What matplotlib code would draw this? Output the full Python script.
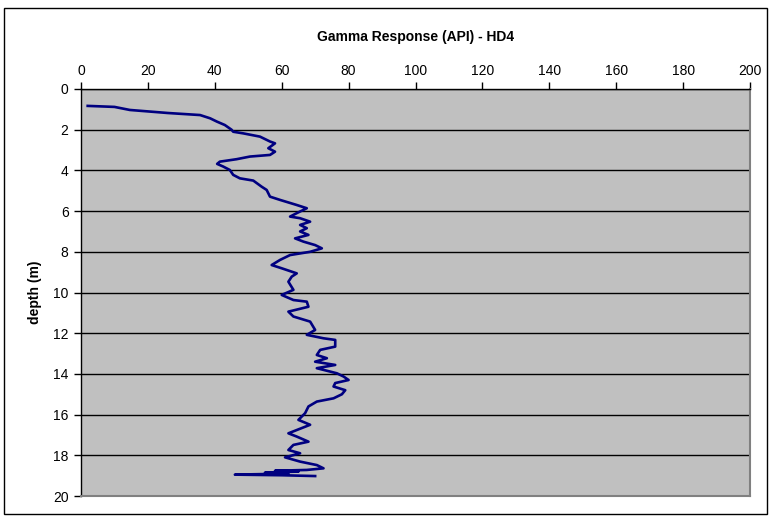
import matplotlib
matplotlib.use("Agg")
import matplotlib.pyplot as plt
from matplotlib.patches import Rectangle

# Gamma log for borehole HD4
depth_m = [0.83, 0.88, 1.03, 1.18, 1.28, 1.44, 1.6, 1.77, 2.0, 2.1, 2.18, 2.34, 2.58, 2.67,
           2.91, 3.08, 3.24, 3.32, 3.45, 3.57, 3.68, 3.81, 3.98, 4.22, 4.39, 4.5, 4.8, 4.96,
           5.29, 5.45, 5.7, 5.86, 6.1, 6.27, 6.35, 6.52, 6.68, 6.84, 7.0, 7.17, 7.34, 7.5,
           7.67, 7.83, 8.0, 8.16, 8.4, 8.65, 8.81, 9.06, 9.22, 9.47, 9.87, 10.12, 10.37,
           10.45, 10.7, 10.94, 11.18, 11.43, 11.84, 12.08, 12.25, 12.33, 12.66, 12.82, 13.07,
           13.23, 13.4, 13.56, 13.72, 13.97, 14.13, 14.3, 14.45, 14.62, 14.8, 15.0, 15.2,
           15.36, 15.6, 15.93, 16.26, 16.5, 16.92, 17.08, 17.33, 17.49, 17.74, 17.9, 18.1,
           18.31, 18.48, 18.64, 18.72, 18.76, 18.8, 18.85, 18.9, 18.95, 18.98, 19.02]
gamma_api = [2, 10, 14.6, 26, 35.6, 38.6, 40.6, 43, 45, 45.5, 48.5, 53.5, 56.5, 58,
             56, 58, 56.5, 50.5, 46.5, 41.5, 40.7, 42.5, 44.5, 45.5, 47.5, 51.5, 54, 55.5,
             56.5, 59.5, 64.5, 67.5, 64.5, 62.5, 65.5, 68.5, 65.5, 67.5, 65.5, 68, 64, 66.5,
             70, 72, 68.5, 62.5, 59.5, 57, 60, 64.5, 63, 62, 63.5, 60, 63.5,
             67.5, 68, 62, 63.5, 68.5, 70, 67.5, 72.5, 76, 76, 71.5, 70.5,
             73.5, 70, 76, 70.5, 76.5, 78.5, 80, 76, 75.5, 79, 78, 75.5,
             70.5, 68, 67, 65, 68.5, 62, 64.5, 68, 63.5, 62, 65.5, 61,
             65.5, 70.5, 72.5, 67.5, 58, 65, 55, 62, 46, 60, 70]

x_ticks = [0, 20, 40, 60, 80, 100, 120, 140, 160, 180, 200]
y_ticks = [0, 2, 4, 6, 8, 10, 12, 14, 16, 18, 20]

plt.rcParams['font.family'] = ['Liberation Sans', 'DejaVu Sans']

W, H = 771, 519
fig = plt.figure(figsize=(W / 100, H / 100), dpi=100)
fig.patch.set_facecolor('white')

# chart frame
fig.patches.append(Rectangle((4 / W, 1 - 514 / H), 763 / W, 506 / H,
                             transform=fig.transFigure, fill=False,
                             edgecolor='black', linewidth=1.0))

ax = fig.add_axes([81 / W, 1 - 496 / H, 669 / W, 407 / H])
ax.set_facecolor('#C0C0C0')

ax.plot(gamma_api, depth_m, color='#000080', linewidth=1.9, solid_joinstyle='round')

ax.set_xlim(0, 200)
ax.set_ylim(20, 0)
ax.set_xticks(x_ticks)
ax.set_yticks(y_ticks)
ax.xaxis.tick_top()
ax.tick_params(axis='x', which='major', direction='out', length=5, width=1,
               labelsize=10, pad=3, top=True, bottom=False)
ax.tick_params(axis='y', which='major', direction='out', length=5, width=1,
               labelsize=10, pad=4)

ax.yaxis.grid(True, color='black', linewidth=1.0)
ax.xaxis.grid(False)
ax.set_axisbelow(True)

for side in ('top', 'left'):
    ax.spines[side].set_color('black')
    ax.spines[side].set_linewidth(1.0)
for side in ('right', 'bottom'):
    ax.spines[side].set_color('#808080')
    ax.spines[side].set_linewidth(1.5)

ax.set_ylabel('depth (m)', fontsize=10, fontweight='bold', labelpad=8)
fig.text((81 + 750) / 2 / W, 1 - 37 / H, 'Gamma Response (API) - HD4',
         ha='center', va='center', fontsize=10, fontweight='bold')

fig.savefig('out.png', dpi=100)
